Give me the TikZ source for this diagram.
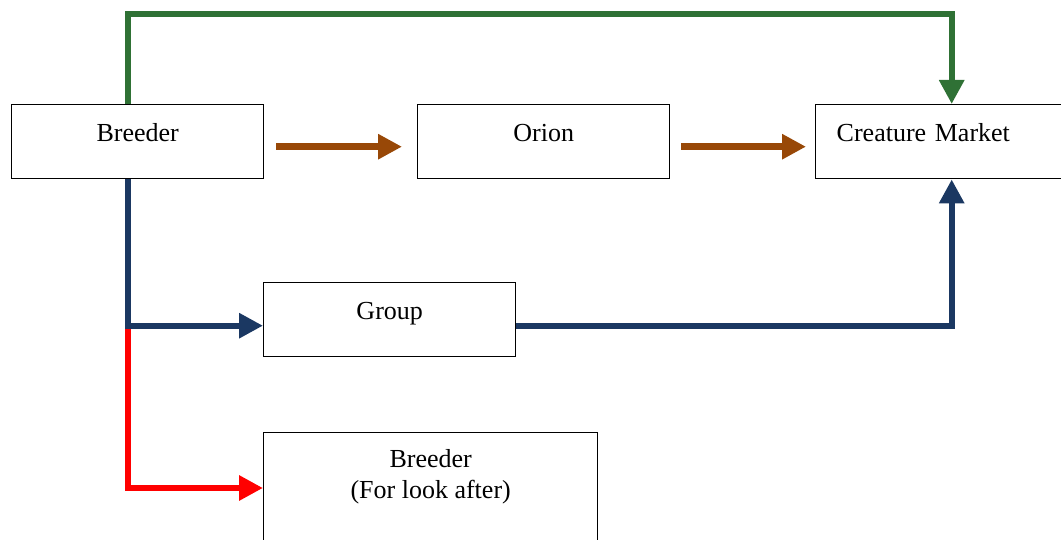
\documentclass[tikz,border=0pt]{standalone}
\usepackage{fontspec}
\setmainfont{Liberation Serif}
\usetikzlibrary{arrows.meta}
\definecolor{flowgreen}{HTML}{2F7135}
\definecolor{flowbrown}{HTML}{984807}
\definecolor{flownavy}{HTML}{1B3862}
\begin{document}
\begin{tikzpicture}
		[x=0.5pt, y=-0.5pt,
		every node/.style={inner sep=0pt, font=\fontsize{13}{15.5}\selectfont},
		box/.style={draw, line width=0.7pt, anchor=north west, minimum width=126pt, text height=18.5pt, text depth=18.5pt},
		flow/.style={line width=3.2pt, -{Triangle[length=12pt, width=12pt]}}]
		\useasboundingbox (0,0) rectangle (1061,540);
		
		\node[box] (breeder) at (11,104) {Breeder};
		\node[box] (orion) at (417,104) {Orion};
		\node[box, text width=105pt, align=left, inner xsep=10.5pt] (market) at (815,104) {Creature Market};
		\node[box] (group) at (263,282) {Group};
		\node[box, minimum width=167pt, align=center, text height=33pt, text depth=40pt] (carer) at (263,432) {Breeder\\(For look after)};
		
		\path ([xshift=-5pt]breeder.south) |- ([yshift=-3pt]group.west) coordinate[pos=0.5] (split);
		
		\draw[flow, flowgreen] ([xshift=-5pt]breeder.north) -- ++(0,-90) -| ([xshift=5pt]market.north);
		\draw[flow, flowbrown] ([xshift=6pt, yshift=-2.5pt]breeder.east) -- ([xshift=-7.5pt, yshift=-2.5pt]orion.west);
		\draw[flow, flowbrown] ([xshift=5.5pt, yshift=-2.5pt]orion.east) -- ([xshift=-4.5pt, yshift=-2.5pt]market.west);
		\draw[flow, red] (split) |- ([yshift=-28pt]carer.north west);
		\draw[flow, flownavy] ([xshift=-5pt]breeder.south) |- ([yshift=-3pt]group.west);
		\draw[flow, flownavy] ([yshift=-3pt]group.east) -| ([xshift=5pt]market.south);
		\end{tikzpicture}
\end{document}
